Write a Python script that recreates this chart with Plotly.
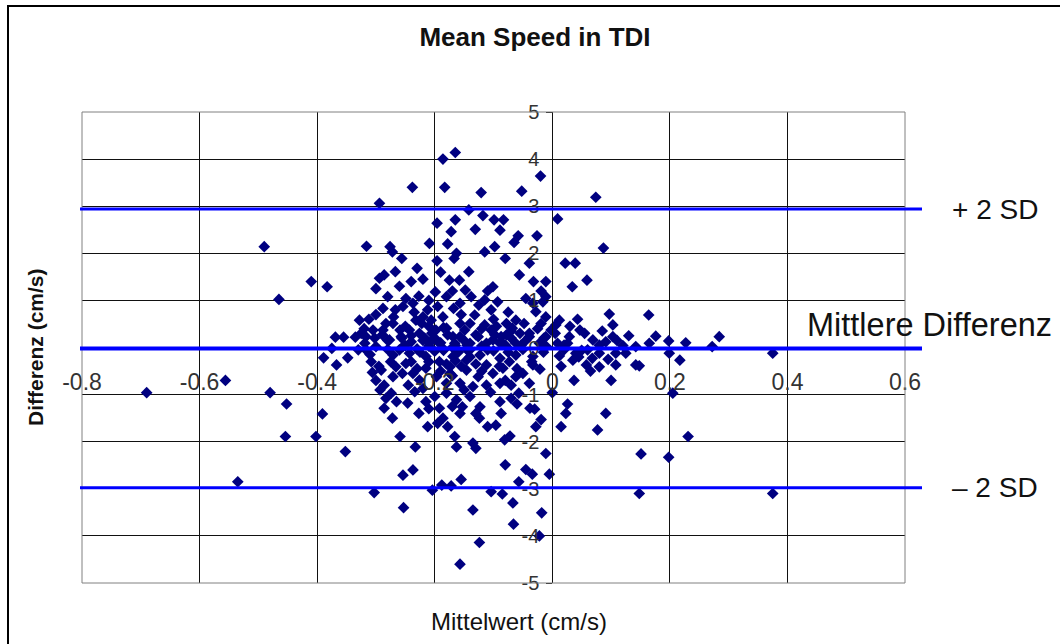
import plotly.graph_objects as go

# Bland-Altman data: mean of both methods (x) vs. difference (y), cm/s
mittelwert = [
    -0.490, -0.465, -0.410, -0.383, -0.369, -0.355, -0.335, -0.375, -0.389, -0.348, -0.367,
    -0.556, -0.690, -0.480, -0.452, -0.391, -0.454, -0.402, -0.352, -0.535,
    0.176, 0.198, 0.227, 0.284, 0.272, 0.199, 0.217, 0.375, 0.148, 0.205, 0.231, 0.151,
    0.198, 0.375, 0.148, 0.164,
    -0.165, -0.186, -0.020, -0.238, -0.183, -0.121, -0.052, -0.294, 0.074, -0.142, -0.196,
    -0.165, -0.118, -0.099, -0.083, -0.172, -0.131, -0.089, -0.058, -0.026, 0.009, -0.316,
    -0.276, -0.272, -0.256, -0.209, -0.178, -0.196, -0.163, -0.167, -0.115, -0.098, -0.080,
    -0.065, -0.039, -0.056, -0.032, -0.011, -0.019, 0.022, 0.039, 0.059, 0.034, 0.087,
    -0.294, -0.286, -0.267, -0.240, -0.230, -0.199, -0.175, -0.158, -0.142, -0.148, -0.101,
    -0.280, -0.249, -0.227, -0.180, -0.138, -0.115, -0.093, -0.033, -0.016, -0.168, -0.312,
    -0.288, -0.267, -0.212, -0.132, -0.068, -0.048, -0.028, -0.011, 0.006, 0.043, 0.047,
    0.097, 0.103, 0.103, 0.029, 0.069, -0.180, -0.115, -0.087, -0.256, -0.288,
    -0.306, -0.286, -0.283, -0.286, -0.272, -0.259, -0.246, -0.233, -0.254, -0.237, -0.303,
    -0.253, -0.234, -0.227, -0.215, -0.212, -0.195, -0.186, -0.204, -0.188, -0.172, -0.155,
    -0.166, -0.163, -0.157, -0.135, -0.124, -0.157, -0.135, -0.130, -0.124, -0.110, -0.096,
    -0.104, -0.085, -0.067, -0.080, -0.081, -0.072, -0.057, -0.045, -0.034, -0.066, -0.018,
    -0.022, -0.011, -0.005, -0.038, -0.030, -0.019, -0.028, -0.057, -0.070, -0.021, 0.000,
    0.026, 0.023, 0.015, 0.037, 0.058, 0.091, 0.077, 0.100, 0.108, 0.142, 0.012, 0.035, 0.068,
    -0.317, -0.289, -0.257, -0.226, -0.200, -0.178, -0.157, -0.130, -0.098, -0.070, -0.039,
    -0.022, -0.271, -0.243, -0.215, -0.192, -0.169, -0.146, -0.123, -0.089, -0.062, -0.033,
    -0.308, -0.291, -0.266, -0.237, -0.215, -0.197, -0.174, -0.157, -0.146, -0.126, -0.112,
    -0.101, -0.084, -0.050, -0.293, -0.274, -0.220, -0.200, -0.180, -0.163, -0.140, -0.123,
    -0.089, -0.087, -0.070, -0.192, -0.153, -0.178,
    -0.319, -0.302, -0.271, -0.243, -0.232, -0.217, -0.198, -0.192, -0.169, -0.157, -0.149,
    -0.140, -0.126, -0.101, -0.078, -0.062, -0.039, -0.019, -0.014, 0.012, -0.254, -0.237,
    -0.195, -0.157, -0.104, -0.062, -0.011, -0.045,
    -0.330, -0.300, -0.280, -0.250, -0.230, -0.210, -0.185, -0.165, -0.145, -0.120, -0.100,
    -0.080, -0.050, -0.010, 0.020, 0.050, 0.080, 0.120,
    -0.328, -0.305, -0.283, -0.259, -0.222, -0.206, -0.186, -0.140, -0.104, -0.078, -0.055,
    -0.002, 0.009, 0.026, 0.040, 0.080, 0.108, 0.142,
    -0.317, -0.254, -0.186, -0.140, -0.078, -0.271, -0.226, -0.180, -0.135, -0.089, -0.062,
    -0.039, -0.249, -0.174, -0.112, -0.073, -0.033, -0.277, -0.240, -0.209, -0.166, -0.112,
    -0.089, -0.053, -0.011, 0.020, 0.080, 0.060, 0.091, 0.125, 0.165,
    -0.220, -0.200, -0.190, -0.180, -0.170, -0.160, -0.150, -0.210, -0.230, -0.170, -0.190,
    -0.155, -0.140, -0.225, -0.205, -0.185, -0.165, -0.145,
    -0.320, -0.300, -0.280, -0.270, -0.260, -0.250, -0.240, -0.235, -0.220, -0.210, -0.310,
    -0.295, -0.275, -0.255, -0.240, -0.325,
    -0.130, -0.120, -0.110, -0.095, -0.090, -0.075, -0.070, -0.060, -0.045, -0.035, -0.025,
    -0.015, -0.100, -0.120, -0.085,
    0.005, 0.015, 0.030, 0.045, 0.055, 0.065, 0.085, 0.095, 0.110, 0.130,
    -0.300, -0.260, -0.220, -0.210, -0.190, -0.170, -0.155, -0.125, -0.110, -0.075,
    -0.300, -0.265, -0.245, -0.210, -0.170, -0.150, -0.130, -0.105, -0.080, -0.060,
]
differenz = [
    2.14, 1.02, 1.40, 1.29, 0.22, 0.22, 0.22, -0.02, -0.22, -0.22, -0.37,
    -0.70, -0.96, -0.96, -1.20, -1.41, -1.89, -1.89, -2.21, -2.85,
    0.24, 0.14, 0.10, 0.23, 0.02, -0.12, -0.27, -0.12, -0.39, -0.97, -1.89, -2.26,
    -2.33, -3.10, -3.10, 0.69,
    4.14, 4.00, 3.64, 3.40, 3.40, 3.29, 3.32, 3.06, 3.19, 2.92, 2.64,
    2.71, 2.80, 2.71, 2.71, 2.46, 2.51, 2.49, 2.37, 2.37, 2.73, 2.15,
    2.14, 2.03, 1.89, 2.21, 2.20, 1.84, 2.00, 1.89, 2.03, 2.14, 1.89,
    2.23, 1.79, 1.54, 1.40, 1.40, 1.20, 1.79, 1.79, 1.43, 1.29, 2.11,
    1.47, 1.54, 1.61, 1.40, 1.68, 1.18, 1.43, 1.43, 1.61, 1.22, 1.29,
    1.08, 1.04, 1.09, 1.08, 1.08, 1.01, 0.97, 0.94, 0.97, 0.83, 0.60,
    0.83, 0.80, 0.80, 0.69, 0.41, 0.51, 0.76, 0.65, 0.48, 0.60, 0.37,
    0.71, 0.48, 0.23, 0.23, 0.16, 0.41, 0.48, 0.23, 0.20, 0.37,
    -0.53, -0.80, -1.08, -1.29, -1.50, -1.89, -1.18, -2.11, -2.71, -2.60, -3.08,
    -3.40, -0.94, -1.40, -1.15, -1.68, -1.61, -1.50, -3.03, -2.92, -2.94, -2.80,
    -1.89, -2.11, -1.40, -3.45, -4.14, -4.60, -2.03, -2.14, -1.50, -1.68, -1.65,
    -3.06, -3.11, -3.30, -2.49, -1.96, -1.88, -2.85, -2.59, -2.69, -3.75, -3.51,
    -4.00, -2.25, -2.69, -1.29, -1.31, -1.53, -1.68, -0.97, -0.80, -0.46, -0.96,
    -1.20, -1.40, -1.68, -0.70, -0.37, -1.40, -1.75, -0.70, -0.37, -0.37, -0.18, -0.27, -0.23,
    0.23, 0.27, 0.23, 0.30, 0.20, 0.27, 0.23, 0.27, 0.27, 0.20, 0.23,
    0.09, -0.16, -0.12, -0.19, -0.30, -0.19, -0.27, -0.16, -0.23, -0.16, -0.19,
    -0.30, -0.48, -0.41, -0.55, -0.44, -0.62, -0.55, -0.76, -0.48, -0.62, -0.80,
    -0.55, -0.44, -0.55, -0.90, -0.97, -0.87, -1.04, -0.97, -1.11, -1.04, -1.26,
    -1.15, -1.40, -1.08, -1.29, -1.26, -1.68,
    0.09, 0.20, 0.51, 0.37, 0.58, 0.20, 0.37, 0.09, 0.23, 0.51, 0.37,
    0.09, 0.23, 0.16, 0.51, 0.09, 0.30, 0.51, 0.20, 0.58, 0.87, 0.94,
    0.87, 0.94, 0.80, 0.58, 1.08, 1.04,
    -0.05, 0.02, -0.04, 0.04, -0.03, 0.03, -0.06, 0.04, -0.05, 0.03, -0.07,
    0.05, -0.04, 0.02, 0.05, -0.06, 0.05, 0.04,
    0.58, 0.37, 0.51, 0.37, 0.51, 0.58, 0.65, 0.51, 0.37, 0.27, 0.30,
    0.37, 0.09, 0.09, -0.12, -0.12, -0.12, 0.02,
    -0.05, 0.02, -0.02, -0.05, 0.02, -0.62, -0.69, -0.76, -0.83, -0.76, -0.62,
    -0.76, -0.34, -0.41, -0.37, -0.30, -0.37, 0.16, 0.12, 0.09, 0.09, 0.09,
    0.09, 0.05, 0.23, -0.05, -0.41, -0.05, 0.12, -0.12, 0.09,
    0.15, -0.08, 0.10, -0.35, 0.00, -0.10, 0.15, -0.30, -0.45, -0.60, -0.50,
    -0.40, -0.20, -0.10, 0.30, 0.42, -0.28, 0.05,
    0.40, 0.70, 0.15, 0.65, -0.05, 0.45, 0.25, 0.75, 0.65, 0.45, -0.15,
    -0.40, -0.30, -0.55, -0.30, 0.30,
    -0.35, 0.40, -0.05, 0.45, -0.40, -0.10, 0.35, -0.45, 0.15, -0.30, 0.40,
    -0.10, 0.60, -0.50, 0.10,
    0.30, -0.40, 0.45, -0.20, 0.30, -0.50, 0.35, -0.25, 0.15, 0.25,
    1.25, 1.30, 1.45, 1.00, 1.60, 1.20, 0.70, 0.90, 1.20, 0.75,
    -0.70, -1.15, -0.80, -1.30, -1.25, -0.90, -1.40, -0.95, -0.70, -1.20,
]

# Agreement limits
mittlere_differenz = -0.02
sd_differenz = 1.48
obere_grenze = mittlere_differenz + 2 * sd_differenz
untere_grenze = mittlere_differenz - 2 * sd_differenz

x_range = [-0.8, 0.6]
y_range = [-5, 5]
x_tickvals = [-0.8, -0.6, -0.4, -0.2, 0.0, 0.2, 0.4, 0.6]
x_ticktext = ["-0.8", "-0.6", "-0.4", "-0.2", "0", "0.2", "0.4", "0.6"]
y_tickvals = [-5, -4, -3, -2, -1, 0, 1, 2, 3, 4, 5]
y_ticktext = ["-5", "-4", "-3", "-2", "-1", "0", "1", "2", "3", "4", "5"]

W, H = 1060, 644
ML, MR, MT, MB = 82, 155, 112, 61
PW, PH = W - ML - MR, H - MT - MB

FONT = "Liberation Sans, Arial, sans-serif"


def py_paper(v):
    return (v - y_range[0]) / (y_range[1] - y_range[0])


def px_paper(v):
    return (v - x_range[0]) / (x_range[1] - x_range[0])


def pix_x(p):
    return (p - ML) / PW


def pix_y(p):
    return (H - MB - p) / PH


fig = go.Figure()
fig.add_trace(go.Scatter(
    x=mittelwert, y=differenz, mode="markers",
    marker=dict(symbol="diamond", size=9, color="#000080", line=dict(width=0)),
    showlegend=False, hoverinfo="x+y",
))

shapes = [
    # plot-area border
    dict(type="rect", xref="paper", yref="paper", x0=0, x1=1, y0=0, y1=1,
         line=dict(color="#808080", width=1), layer="above"),
    # outer chart frame
    dict(type="rect", xref="paper", yref="paper",
         x0=pix_x(8), x1=pix_x(1075), y0=pix_y(660), y1=pix_y(6),
         line=dict(color="black", width=2)),
]
for val, w in [(obere_grenze, 3), (mittlere_differenz, 4), (untere_grenze, 3)]:
    shapes.append(dict(type="line", xref="paper", yref="paper",
                       x0=pix_x(80), x1=pix_x(922), y0=py_paper(val), y1=py_paper(val),
                       line=dict(color="#0000FF", width=w), layer="above"))

annotations = [
    dict(text="+ 2 SD", xref="paper", yref="paper", x=pix_x(995), y=py_paper(obere_grenze),
         xanchor="center", yanchor="middle", showarrow=False,
         font=dict(family=FONT, size=28, color="#111")),
    dict(text="Mittlere Differenz", xref="paper", yref="paper", x=pix_x(929),
         y=py_paper(mittlere_differenz) + 23 / PH,
         xanchor="center", yanchor="middle", showarrow=False,
         font=dict(family=FONT, size=32.5, color="#111")),
    dict(text="– 2 SD", xref="paper", yref="paper", x=pix_x(995), y=py_paper(untere_grenze),
         xanchor="center", yanchor="middle", showarrow=False,
         font=dict(family=FONT, size=28, color="#111")),
    dict(text="<b>Differenz (cm/s)</b>", xref="paper", yref="paper", x=pix_x(35), y=pix_y(347),
         xanchor="center", yanchor="middle", textangle=-90, showarrow=False,
         font=dict(family=FONT, size=21, color="#111")),
    dict(text="Mittelwert (cm/s)", xref="paper", yref="paper", x=pix_x(519), y=pix_y(621),
         xanchor="center", yanchor="middle", showarrow=False,
         font=dict(family=FONT, size=24, color="#111")),
]

fig.update_layout(
    width=W, height=H,
    margin=dict(l=ML, r=MR, t=MT, b=MB),
    paper_bgcolor="white", plot_bgcolor="white",
    title=dict(text="<b>Mean Speed in TDI</b>", x=535 / W,
               xanchor="center", y=1 - 37 / H, yanchor="middle",
               font=dict(family=FONT, size=26, color="#111")),
    xaxis=dict(range=x_range, tickvals=x_tickvals, ticktext=x_ticktext,
               showgrid=True, gridcolor="#111", gridwidth=1, zeroline=False,
               showline=False, ticks="", anchor="free", position=py_paper(0),
               ticklabelstandoff=18,
               tickfont=dict(family=FONT, size=23, color="#333")),
    yaxis=dict(range=y_range, tickvals=y_tickvals, ticktext=y_ticktext,
               showgrid=True, gridcolor="#111", gridwidth=1, zeroline=False,
               showline=True, linecolor="#111", linewidth=1,
               ticks="outside", ticklen=6, tickcolor="#111",
               anchor="free", position=px_paper(0), ticklabelstandoff=3,
               tickfont=dict(family=FONT, size=20, color="#333")),
    shapes=shapes, annotations=annotations,
)

fig.write_html("out.html")
